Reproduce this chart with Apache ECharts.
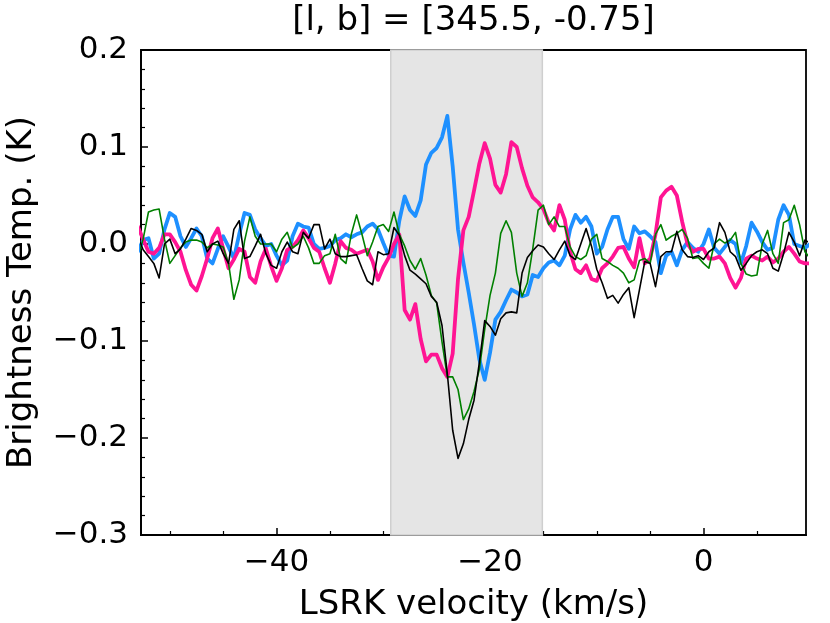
<!DOCTYPE html>
<html>
<head>
<meta charset="utf-8">
<script src="https://cdn.jsdelivr.net/npm/echarts@6/dist/echarts.min.js"></script>
<style>
html,body{margin:0;padding:0;background:#fff;}
#chart{width:830px;height:623px;}
</style>
</head>
<body>
<div id="chart"></div>
<script>
// LSRK velocity channels (km/s)
const velocity = [-53,-52.5,-52,-51.5,-51,-50.5,-50,-49.5,-49,-48.5,-48,-47.5,-47,-46.5,-46,-45.5,-45,-44.5,-44,-43.5,-43,-42.5,-42,-41.5,-41,-40.5,-40,-39.5,-39,-38.5,-38,-37.5,-37,-36.5,-36,-35.5,-35,-34.5,-34,-33.5,-33,-32.5,-32,-31.5,-31,-30.5,-30,-29.5,-29,-28.5,-28,-27.5,-27,-26.5,-26,-25.5,-25,-24.5,-24,-23.5,-23,-22.5,-22,-21.5,-21,-20.5,-20,-19.5,-19,-18.5,-18,-17.5,-17,-16.5,-16,-15.5,-15,-14.5,-14,-13.5,-13,-12.5,-12,-11.5,-11,-10.5,-10,-9.5,-9,-8.5,-8,-7.5,-7,-6.5,-6,-5.5,-5,-4.5,-4,-3.5,-3,-2.5,-2,-1.5,-1,-0.5,0,0.5,1,1.5,2,2.5,3,3.5,4,4.5,5,5.5,6,6.5,7,7.5,8,8.5,9,9.5,10];

// Brightness temperature (K) for each spectrum
const blueSpectrum = [
-0.008, 0.004, 0.006, -0.015, -0.010, 0.015, 0.032, 0.028, 0.008, -0.003,
0.006, 0.016, 0.008, -0.015, -0.020, -0.005, 0.008, -0.003, -0.015, 0.010,
0.032, 0.030, 0.015, 0.006, -0.002, 0.000, -0.012, -0.022, -0.017, 0.008,
0.021, 0.018, 0.017, 0.000, -0.005, -0.004, -0.002, 0.004, 0.006, 0.010,
0.007, 0.010, 0.012, 0.018, 0.021, 0.015, 0.001, -0.012, -0.013, 0.024,
0.049, 0.035, 0.029, 0.045, 0.082, 0.094, 0.099, 0.110, 0.132, 0.080,
0.015, -0.019, -0.050, -0.083, -0.119, -0.140, -0.112, -0.078, -0.070, -0.058,
-0.047, -0.050, -0.054, -0.052, -0.032, -0.034, -0.025,
-0.019, -0.017, -0.022, -0.012, 0.015, 0.030, 0.022, 0.028, 0.018, -0.010,
-0.003, 0.015, 0.028, 0.028, 0.005, -0.005, 0.018, 0.011, 0.013, 0.008,
0.002, -0.030, -0.012, -0.008, -0.022, -0.006, 0.002, -0.004, -0.008, 0.000,
0.015, -0.004, -0.010, -0.003, 0.004, 0.000, -0.020, -0.002, 0.022, 0.013,
0.002, -0.006, -0.004, 0.025, 0.040, 0.030, 0.000, -0.002, -0.004, 0.000
];
const pinkSpectrum = [
0.018, 0.005, -0.008, -0.010, -0.004, 0.010, 0.010, 0.002, -0.008, -0.027,
-0.042, -0.048, -0.033, -0.015, 0.006, 0.016, -0.005, -0.025, -0.016, -0.005,
-0.008, -0.034, -0.040, -0.018, -0.005, -0.023, -0.038, -0.025, -0.006, -0.003,
0.004, 0.014, 0.006, -0.004, -0.008, -0.025, -0.040, -0.020, 0.003, -0.004,
-0.006, -0.010, -0.008, -0.006, -0.018, -0.037, -0.024, -0.014, 0.000, 0.010,
-0.068, -0.078, -0.062, -0.098, -0.121, -0.114, -0.114, -0.128, -0.137, -0.113,
-0.036, 0.014, 0.028, 0.055, 0.083, 0.104, 0.088, 0.061, 0.053, 0.072,
0.105, 0.100, 0.078, 0.060, 0.048, 0.043, 0.036,
0.022, 0.014, 0.040, 0.025, -0.008, -0.026, -0.030, -0.022, -0.036, -0.038,
-0.025, -0.020, -0.013, -0.004, -0.003, -0.015, -0.024, 0.006, -0.020, -0.015,
0.010, 0.048, 0.055, 0.059, 0.050, 0.023, 0.000, -0.008, -0.005, -0.005,
-0.015, -0.015, -0.013, -0.020, -0.035, -0.045, -0.035, -0.015, -0.012, -0.015,
-0.017, -0.013, -0.019, -0.015, -0.008, -0.003, -0.010, -0.018, -0.020, -0.020
];
const greenSpectrum = [
-0.014, 0.005, 0.033, 0.035, 0.036, 0.005, -0.020, -0.012, -0.004, 0.002,
0.004, 0.004, 0.002, -0.004, 0.000, -0.001, -0.003, -0.020, -0.057, -0.037,
0.003, 0.028, 0.008, 0.000, 0.000, 0.000, -0.008, 0.005, 0.012, -0.004,
0.000, 0.008, -0.004, -0.020, -0.020, -0.012, -0.010, 0.010, -0.015, -0.020,
0.010, 0.030, 0.010, -0.012, 0.002, 0.018, 0.020, 0.013, 0.033, 0.010,
-0.002, -0.017, -0.026, -0.015, -0.032, -0.053, -0.061, -0.101, -0.137, -0.137,
-0.150, -0.181, -0.170, -0.152, -0.129, -0.088, -0.053, -0.030, 0.011, 0.024,
0.012, -0.030, -0.054, -0.040, -0.005, 0.035, 0.040,
0.020, 0.028, 0.018, 0.018, -0.003, -0.013, -0.016, -0.012, 0.005, 0.010,
-0.015, -0.018, -0.022, -0.025, -0.030, -0.040, -0.037, -0.017, -0.015, -0.020,
0.010, 0.020, 0.004, 0.008, 0.011, 0.015, 0.006, -0.015, -0.014, -0.020,
-0.025, 0.000, 0.005, 0.001, 0.004, 0.012, -0.020, -0.031, -0.033, -0.032,
0.000, 0.014, -0.010, -0.020, 0.022, 0.025, 0.040, 0.020, -0.008, -0.015
];
const blackSpectrum = [
0.008, -0.006, -0.013, -0.020, -0.035, 0.000, 0.005, -0.010, -0.005, 0.005,
0.016, 0.014, 0.010, -0.008, 0.000, 0.003, -0.010, -0.020, 0.015, 0.024,
-0.015, -0.013, -0.002, 0.010, -0.010, -0.022, -0.025, -0.008, 0.002, -0.008,
-0.010, 0.012, 0.006, 0.020, 0.020, -0.005, 0.005, -0.010, -0.013, -0.013,
-0.012, -0.011, -0.025, -0.038, -0.042, -0.008, -0.011, -0.010, 0.017, 0.009,
-0.012, -0.027, -0.031, -0.036, -0.041, -0.054, -0.060, -0.084, -0.134, -0.192,
-0.221, -0.206, -0.181, -0.161, -0.122, -0.079, -0.085, -0.094, -0.077, -0.071,
-0.070, -0.071, -0.030, -0.014, -0.007, -0.001, -0.003,
-0.010, -0.016, -0.006, 0.003, -0.012, -0.016, 0.000, 0.016, -0.002, -0.026,
-0.040, -0.056, -0.053, -0.061, -0.052, -0.045, -0.076, -0.047, -0.018, -0.020,
-0.044, -0.013, -0.008, -0.008, 0.013, -0.006, -0.013, -0.014, -0.012, -0.016,
-0.008, -0.004, 0.022, 0.012, -0.008, -0.013, -0.027, -0.020, -0.012, -0.008,
-0.006, -0.010, -0.025, -0.028, -0.010, 0.012, 0.002, -0.012, 0.004, 0.001
];

// Axis ticks and shaded velocity window
const xMajorTicks = [-40, -20, 0];
const xMinorTicks = [-50, -45, -35, -30, -25, -15, -10, -5, 5];
const bandRange = [-29.3, -15.1];
const titleText = '[l, b] = [345.5, -0.75]';
const xName = 'LSRK velocity (km/s)';
const yName = 'Brightness Temp. (K)';

const FONT = '"DejaVu Sans", sans-serif';
const minus = s => String(s).replace('-', '\u2212');
const pairs = vals => velocity.map((v, i) => [v, vals[i]]);

function lineSeries(name, vals, color, width, z) {
  return {
    name: name, type: 'line', xAxisIndex: 0, yAxisIndex: 0,
    data: pairs(vals), showSymbol: false, symbol: 'none', z: z,
    clip: true, emphasis: { disabled: true },
    lineStyle: { color: color, width: width, join: 'round', cap: 'round' },
    itemStyle: { color: color }
  };
}

const chart = echarts.init(document.getElementById('chart'), null, { renderer: 'canvas' });
chart.setOption({
  animation: false,
  backgroundColor: '#ffffff',
  grid: { left: 141, right: 24, top: 50, bottom: 88, containLabel: false, outerBoundsMode: 'none', show: true, borderColor: '#000', borderWidth: 1.8, backgroundColor: 'transparent' },
  graphic: [{
    type: 'text', x: 473.5, y: 21, z: 10,
    style: { text: titleText, font: '34px "DejaVu Sans"', fill: '#000', textAlign: 'center', textVerticalAlign: 'middle' }
  }],
  xAxis: [{
    type: 'value', min: -52.7, max: 9.6, position: 'bottom',
    name: xName, nameLocation: 'middle', nameGap: 53,
    nameTextStyle: { fontFamily: FONT, fontSize: 34, color: '#000' },
    axisLine: { show: true, onZero: false, lineStyle: { color: '#000', width: 1.8 } },
    axisTick: { show: true, inside: true, length: 7, customValues: xMajorTicks, lineStyle: { color: '#000', width: 1.5 } },
    axisLabel: { customValues: xMajorTicks, formatter: v => minus(v), fontFamily: FONT, fontSize: 31, color: '#000', margin: 12 },
    splitLine: { show: false }
  }, {
    type: 'value', min: -52.7, max: 9.6, position: 'bottom',
    axisLine: { show: false, onZero: false },
    axisTick: { show: true, inside: true, length: 4, customValues: xMinorTicks, lineStyle: { color: '#000', width: 1.2 } },
    axisLabel: { show: false, customValues: xMinorTicks },
    splitLine: { show: false }
  }],
  yAxis: {
    type: 'value', min: -0.3, max: 0.2, interval: 0.1,
    name: yName, nameLocation: 'middle', nameGap: 102,
    nameTextStyle: { fontFamily: FONT, fontSize: 34, color: '#000' },
    axisLine: { show: true, onZero: false, lineStyle: { color: '#000', width: 1.8 } },
    axisTick: { show: true, inside: true, length: 7, lineStyle: { color: '#000', width: 1.5 } },
    minorTick: { show: true, splitNumber: 5, length: 4, lineStyle: { color: '#000', width: 1.2 } },
    axisLabel: { formatter: v => minus(v.toFixed(1)), fontFamily: FONT, fontSize: 31, color: '#000', margin: 13 },
    splitLine: { show: false },
    minorSplitLine: { show: false }
  },
  series: [
    {
      name: 'window', type: 'line', data: [], z: 1, silent: true,
      markArea: {
        silent: true,
        itemStyle: { color: '#e5e5e5', borderColor: '#cfcfcf', borderWidth: 1.5 },
        data: [[{ xAxis: bandRange[0] }, { xAxis: bandRange[1] }]]
      }
    },
    lineSeries('blue', blueSpectrum, '#1E90FF', 3.8, 2),
    lineSeries('pink', pinkSpectrum, '#FF1493', 3.8, 3),
    lineSeries('green', greenSpectrum, '#008000', 1.6, 4),
    lineSeries('black', blackSpectrum, '#000000', 1.6, 5)
  ]
});
</script>
</body>
</html>
